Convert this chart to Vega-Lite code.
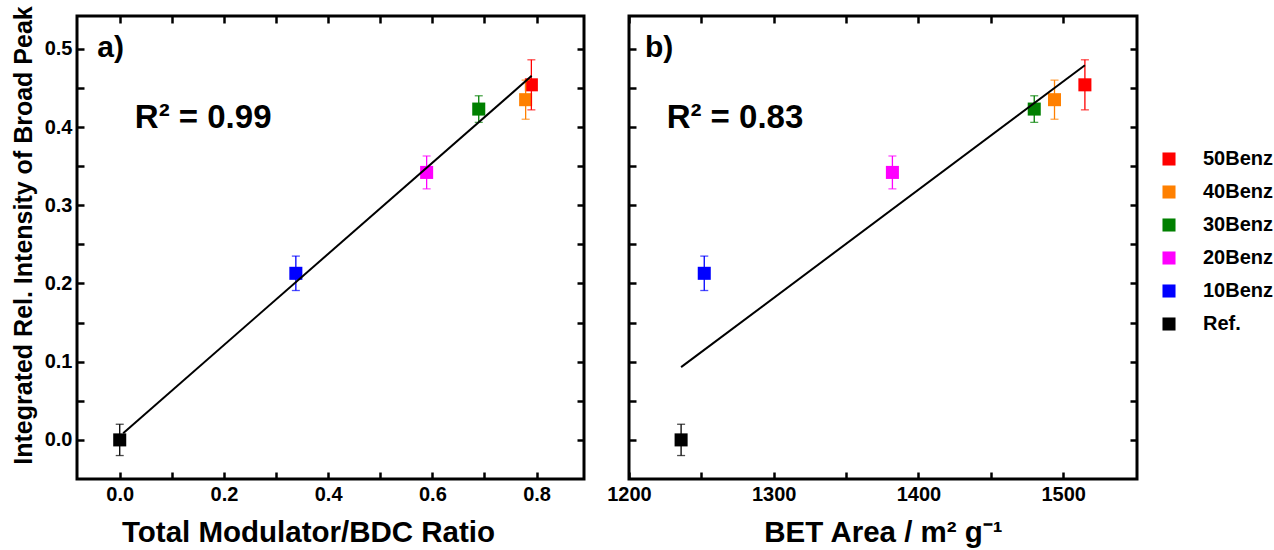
{
  "$schema": "https://vega.github.io/schema/vega-lite/v6.json",
  "padding": {"left": 9, "top": 4, "right": 0, "bottom": 0},
  "background": "white",
  "datasets": {
    "pts": [
      {"sample": "Ref.", "ratio": 0.0, "bet": 1236, "y": 0.0, "lo": -0.02, "hi": 0.02},
      {"sample": "10Benz", "ratio": 0.338, "bet": 1252, "y": 0.213, "lo": 0.191, "hi": 0.235},
      {"sample": "20Benz", "ratio": 0.589, "bet": 1382, "y": 0.342, "lo": 0.321, "hi": 0.363},
      {"sample": "30Benz", "ratio": 0.689, "bet": 1480, "y": 0.423, "lo": 0.406, "hi": 0.44},
      {"sample": "40Benz", "ratio": 0.779, "bet": 1494, "y": 0.435, "lo": 0.41, "hi": 0.46},
      {"sample": "50Benz", "ratio": 0.79, "bet": 1515, "y": 0.454, "lo": 0.422, "hi": 0.486}
    ],
    "fitA": [{"x": 0.0066, "y": 0.0085}, {"x": 0.7906, "y": 0.4655}],
    "fitB": [{"x": 1236, "y": 0.093}, {"x": 1515, "y": 0.479}]
  },
  "hconcat": [
    {
      "width": 507,
      "height": 463,
      "resolve": {"axis": {"x": "independent", "y": "independent"}},
      "layer": [
        {
          "data": {"name": "pts"},
          "mark": {"type": "point", "shape": "square", "filled": true, "size": 170, "opacity": 1},
          "encoding": {
            "x": {"field": "ratio", "type": "quantitative", "scale": {"domain": [-0.082, 0.891], "nice": false, "zero": false},
              "axis": {"orient": "bottom", "title": "Total Modulator/BDC Ratio", "titleX": 231, "values": [0, 0.1, 0.2, 0.3, 0.4, 0.5, 0.6, 0.7, 0.8], "labelExpr": "round(datum.value*10) % 2 == 0 ? format(datum.value, '.1f') : ''"}},
            "y": {"field": "y", "type": "quantitative", "scale": {"domain": [-0.05, 0.542], "nice": false, "zero": false},
              "axis": {"orient": "left", "title": "Integrated Rel. Intensity of Broad Peak", "titleY": 219, "values": [0, 0.05, 0.1, 0.15, 0.2, 0.25, 0.3, 0.35, 0.4, 0.45, 0.5], "labelExpr": "round(datum.value*100) % 10 == 0 ? format(datum.value, '.1f') : ''"}},
            "color": {"field": "sample", "type": "nominal",
              "scale": {"domain": ["50Benz", "40Benz", "30Benz", "20Benz", "10Benz", "Ref."], "range": ["#ff0000", "#ff8000", "#008000", "#ff00ff", "#0000ff", "#000000"]},
              "legend": {"orient": "none", "legendX": 1082, "legendY": 133, "title": null}}
          }
        },
        {
          "data": {"name": "pts"},
          "mark": {"type": "rule", "strokeWidth": 1.3},
          "encoding": {
            "x": {"field": "ratio", "type": "quantitative", "axis": null},
            "y": {"field": "lo", "type": "quantitative", "axis": null},
            "y2": {"field": "hi"},
            "color": {"field": "sample", "type": "nominal", "legend": null}
          }
        },
        {
          "data": {"name": "pts"},
          "mark": {"type": "tick", "orient": "horizontal", "size": 8, "thickness": 1.3},
          "encoding": {
            "x": {"field": "ratio", "type": "quantitative", "axis": null},
            "y": {"field": "lo", "type": "quantitative", "axis": null},
            "color": {"field": "sample", "type": "nominal", "legend": null}
          }
        },
        {
          "data": {"name": "pts"},
          "mark": {"type": "tick", "orient": "horizontal", "size": 8, "thickness": 1.3},
          "encoding": {
            "x": {"field": "ratio", "type": "quantitative", "axis": null},
            "y": {"field": "hi", "type": "quantitative", "axis": null},
            "color": {"field": "sample", "type": "nominal", "legend": null}
          }
        },
        {
          "data": {"name": "fitA"},
          "mark": {"type": "line", "color": "black", "strokeWidth": 2},
          "encoding": {
            "x": {"field": "x", "type": "quantitative", "axis": null},
            "y": {"field": "y", "type": "quantitative", "axis": null}
          }
        },
        {
          "data": {"values": [{}]},
          "mark": {"type": "text", "align": "left", "baseline": "middle", "fontSize": 30, "fontWeight": "bold", "color": "black"},
          "encoding": {
            "x": {"datum": -0.043, "type": "quantitative", "axis": null},
            "y": {"datum": 0.501, "type": "quantitative", "axis": null},
            "text": {"value": "a)"}
          }
        },
        {
          "data": {"values": [{}]},
          "mark": {"type": "text", "align": "left", "baseline": "alphabetic", "fontSize": 33, "fontWeight": "bold", "color": "black"},
          "encoding": {
            "x": {"datum": 0.029, "type": "quantitative", "axis": null},
            "y": {"datum": 0.399, "type": "quantitative", "axis": null},
            "text": {"value": "R² = 0.99"}
          }
        },
        {
          "data": {"name": "fitA"},
          "mark": {"type": "point", "opacity": 0},
          "encoding": {
            "x": {"field": "x", "type": "quantitative",
              "axis": {"orient": "top", "labels": false, "title": null, "values": [0, 0.1, 0.2, 0.3, 0.4, 0.5, 0.6, 0.7, 0.8]}},
            "y": {"field": "y", "type": "quantitative",
              "axis": {"orient": "right", "labels": false, "title": null, "values": [0, 0.05, 0.1, 0.15, 0.2, 0.25, 0.3, 0.35, 0.4, 0.45, 0.5]}}
          }
        }
      ]
    },
    {
      "width": 508,
      "height": 463,
      "resolve": {"axis": {"x": "independent", "y": "independent"}},
      "layer": [
        {
          "data": {"name": "pts"},
          "mark": {"type": "point", "shape": "square", "filled": true, "size": 170, "opacity": 1},
          "encoding": {
            "x": {"field": "bet", "type": "quantitative", "scale": {"domain": [1200, 1551], "nice": false, "zero": false},
              "axis": {"orient": "bottom", "title": "BET Area / m² g⁻¹", "values": [1200, 1250, 1300, 1350, 1400, 1450, 1500], "labelExpr": "datum.value % 100 == 0 ? format(datum.value, 'd') : ''"}},
            "y": {"field": "y", "type": "quantitative", "scale": {"domain": [-0.05, 0.542], "nice": false, "zero": false},
              "axis": {"orient": "left", "labels": false, "title": null, "values": [0, 0.05, 0.1, 0.15, 0.2, 0.25, 0.3, 0.35, 0.4, 0.45, 0.5]}},
            "color": {"field": "sample", "type": "nominal", "legend": null,
              "scale": {"domain": ["50Benz", "40Benz", "30Benz", "20Benz", "10Benz", "Ref."], "range": ["#ff0000", "#ff8000", "#008000", "#ff00ff", "#0000ff", "#000000"]}}
          }
        },
        {
          "data": {"name": "pts"},
          "mark": {"type": "rule", "strokeWidth": 1.3},
          "encoding": {
            "x": {"field": "bet", "type": "quantitative", "axis": null},
            "y": {"field": "lo", "type": "quantitative", "axis": null},
            "y2": {"field": "hi"},
            "color": {"field": "sample", "type": "nominal", "legend": null}
          }
        },
        {
          "data": {"name": "pts"},
          "mark": {"type": "tick", "orient": "horizontal", "size": 8, "thickness": 1.3},
          "encoding": {
            "x": {"field": "bet", "type": "quantitative", "axis": null},
            "y": {"field": "lo", "type": "quantitative", "axis": null},
            "color": {"field": "sample", "type": "nominal", "legend": null}
          }
        },
        {
          "data": {"name": "pts"},
          "mark": {"type": "tick", "orient": "horizontal", "size": 8, "thickness": 1.3},
          "encoding": {
            "x": {"field": "bet", "type": "quantitative", "axis": null},
            "y": {"field": "hi", "type": "quantitative", "axis": null},
            "color": {"field": "sample", "type": "nominal", "legend": null}
          }
        },
        {
          "data": {"name": "fitB"},
          "mark": {"type": "line", "color": "black", "strokeWidth": 2},
          "encoding": {
            "x": {"field": "x", "type": "quantitative", "axis": null},
            "y": {"field": "y", "type": "quantitative", "axis": null}
          }
        },
        {
          "data": {"values": [{}]},
          "mark": {"type": "text", "align": "left", "baseline": "middle", "fontSize": 30, "fontWeight": "bold", "color": "black"},
          "encoding": {
            "x": {"datum": 1211, "type": "quantitative", "axis": null},
            "y": {"datum": 0.501, "type": "quantitative", "axis": null},
            "text": {"value": "b)"}
          }
        },
        {
          "data": {"values": [{}]},
          "mark": {"type": "text", "align": "left", "baseline": "alphabetic", "fontSize": 33, "fontWeight": "bold", "color": "black"},
          "encoding": {
            "x": {"datum": 1226, "type": "quantitative", "axis": null},
            "y": {"datum": 0.399, "type": "quantitative", "axis": null},
            "text": {"value": "R² = 0.83"}
          }
        },
        {
          "data": {"name": "fitB"},
          "mark": {"type": "point", "opacity": 0},
          "encoding": {
            "x": {"field": "x", "type": "quantitative",
              "axis": {"orient": "top", "labels": false, "title": null, "values": [1200, 1250, 1300, 1350, 1400, 1450, 1500]}},
            "y": {"field": "y", "type": "quantitative",
              "axis": {"orient": "right", "labels": false, "title": null, "values": [0, 0.05, 0.1, 0.15, 0.2, 0.25, 0.3, 0.35, 0.4, 0.45, 0.5]}}
          }
        }
      ]
    }
  ],
  "spacing": 18,
  "config": {
    "font": "Liberation Sans",
    "view": {"stroke": "black", "strokeWidth": 3},
    "axis": {
      "domain": false,
      "grid": false,
      "ticks": true,
      "tickColor": "black",
      "tickWidth": 2.5,
      "tickSize": -7,
      "labelFlush": false,
      "labelOverlap": false,
      "labelFont": "Liberation Sans",
      "labelFontSize": 20,
      "labelFontWeight": "bold",
      "labelColor": "black",
      "labelPadding": 12,
      "titleFont": "Liberation Sans",
      "titleFontWeight": "bold",
      "titleColor": "black"
    },
    "axisX": {"titleFontSize": 29.5, "titlePadding": 14},
    "axisY": {"titleFontSize": 25, "titlePadding": 8},
    "legend": {
      "labelFont": "Liberation Sans",
      "labelFontSize": 20,
      "labelFontWeight": "bold",
      "labelColor": "black",
      "symbolType": "square",
      "symbolSize": 170,
      "symbolStrokeWidth": 0,
      "labelOffset": 24,
      "rowPadding": 13
    }
  }
}
